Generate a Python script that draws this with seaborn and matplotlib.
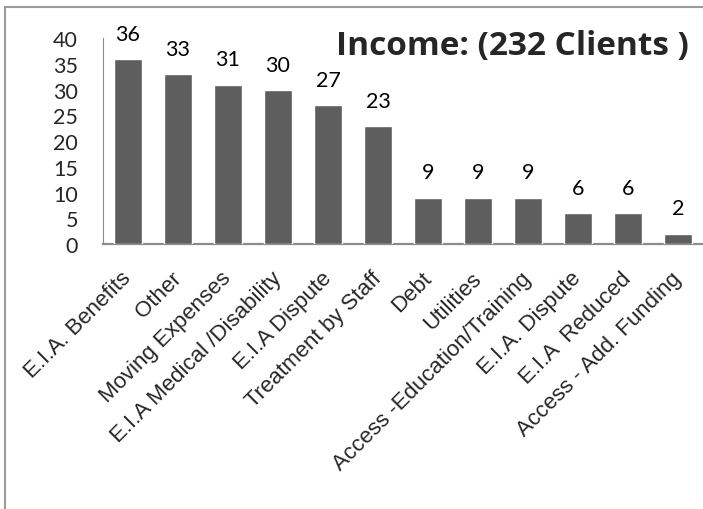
import matplotlib
matplotlib.use("Agg")
import matplotlib.pyplot as plt
import matplotlib.patheffects as pe
import matplotlib.transforms as mtrans
from matplotlib.lines import Line2D
import seaborn as sns
import pandas as pd

# values
categories = ["E.I.A. Benefits", "Other", "Moving Expenses", "E.I.A Medical /Disability",
              "E.I.A Dispute", "Treatment by Staff", "Debt", "Utilities",
              "Access -Education/Training", "E.I.A. Dispute", "E.I.A  Reduced",
              "Access - Add. Funding"]
clients = [36, 33, 31, 30, 27, 23, 9, 9, 9, 6, 6, 2]
y_ticks = [0, 5, 10, 15, 20, 25, 30, 35, 40]

df = pd.DataFrame({"issue": categories, "clients": clients})

sns.set_style("white")
plt.rcParams['font.family'] = ['Lato', 'DejaVu Sans']

fig = plt.figure(figsize=(7.03, 5.10), dpi=100)
ax = fig.add_axes([103 / 703, 1 - 245 / 510, 1 - 103 / 703, (245 - 39.4) / 510])

sns.barplot(data=df, x="issue", y="clients", color="#5e5e5e", saturation=1,
            width=0.55, ax=ax, zorder=3)
for bar in ax.patches:
    bar.set_path_effects([pe.SimplePatchShadow(offset=(0.8, -1.2), shadow_rgbFace="#9a9a9a", alpha=0.5),
                          pe.Normal()])

ax.bar_label(ax.containers[0], labels=[str(v) for v in clients], padding=11,
             fontsize=15.5, color="black")

ax.set_ylim(0, 40)
ax.set_xlim(-0.5, len(categories) - 0.5)
ax.set_yticks(y_ticks)
ax.set_yticklabels([str(t) for t in y_ticks], fontsize=15.5)
ax.set_xticks(range(len(categories)))
ax.set_xticklabels(categories, rotation=45, ha="right", va="baseline",
                   rotation_mode="anchor", fontsize=16, family="Liberation Sans")
ax.tick_params(axis="y", length=0, pad=18)
ax.tick_params(axis="x", length=0, pad=25)
ax.set_xlabel("")
ax.set_ylabel("")

# nudge the slanted labels a few pixels right, like the original
shift = mtrans.ScaledTranslation(4 / 100, 0, fig.dpi_scale_trans)
for lbl in ax.get_xticklabels():
    lbl.set_transform(lbl.get_transform() + shift)

for side in ["top", "right"]:
    ax.spines[side].set_visible(False)
for side in ["left", "bottom"]:
    ax.spines[side].set_color("#8c8c8c")
ax.spines["left"].set_linewidth(0.8)
ax.spines["bottom"].set_linewidth(1.6)

fig.text(512 / 703, 1 - 46 / 510, "Income: (232 Clients )", ha="center", va="center",
         fontsize=24, fontweight="bold", family="Open Sans")

# chart frame (only the left and top edges are visible in the crop)
fig.add_artist(Line2D([5 / 703, 5 / 703], [0, 1 - 8 / 510], color="#9a9a9a", lw=1.5))
fig.add_artist(Line2D([5 / 703, 1], [1 - 8 / 510, 1 - 8 / 510], color="#9a9a9a", lw=1.5))

fig.savefig("out.png", dpi=100)
